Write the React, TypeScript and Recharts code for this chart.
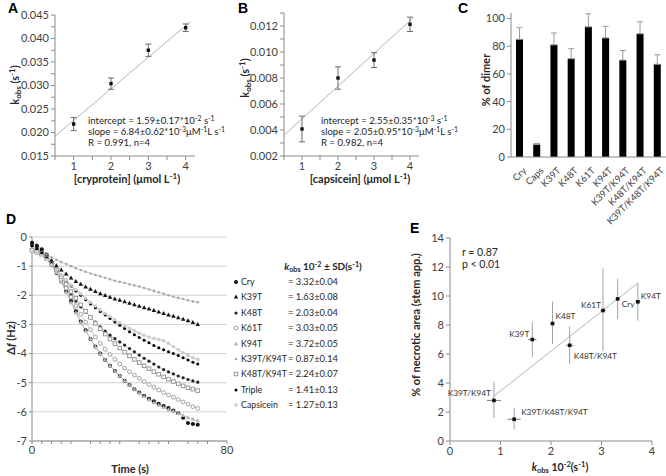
import React from 'react';
import {
  ScatterChart, Scatter, XAxis, YAxis, ErrorBar, ReferenceLine,
  BarChart, Bar, LineChart, Line, CartesianGrid,
} from 'recharts';

// ---- panel A: cryprotein kinetics
const aConc = [1, 2, 3, 4];
const aKobs = [0.0218, 0.0304, 0.0375, 0.0423];
const aErr = [0.0014, 0.0012, 0.0013, 0.0008];
const aFit = [[0.5, 0.0192], [4.13, 0.0436]];
const aYTicks = [0.015, 0.0175, 0.02, 0.0225, 0.025, 0.0275, 0.03, 0.0325, 0.035, 0.0375, 0.04, 0.0425, 0.045];
const aYMajor = [0.015, 0.02, 0.025, 0.03, 0.035, 0.04, 0.045];

// ---- panel B: capsicein kinetics
const bConc = [1, 2, 3, 4];
const bKobs = [0.00408, 0.0080, 0.00938, 0.01213];
const bErr = [0.00099, 0.00086, 0.00057, 0.00055];
const bFit = [[0.5, 0.0036], [4.08, 0.0126]];
const bYTicks = [0.002, 0.003, 0.004, 0.005, 0.006, 0.007, 0.008, 0.009, 0.01, 0.011, 0.012, 0.013];
const bYMajor = [0.002, 0.004, 0.006, 0.008, 0.01, 0.012];

const concTicks = [0.5, 1, 1.5, 2, 2.5, 3, 3.5, 4];

// ---- panel C: % of dimer
const cNames = ['Cry', 'Caps', 'K39T', 'K48T', 'K61T', 'K94T', 'K39T/K94T', 'K48T/K94T', 'K39T/K48T/K94T'];
const cDimer = [85, 9, 81, 71, 94, 86, 70, 89, 67];
const cErr = [8.4, 0.8, 8.6, 7.2, 9.4, 8.4, 6.9, 8.6, 6.8];
const cYTicks = [0, 20, 40, 60, 80, 100];

// ---- panel D: frequency shift vs time
const dTime = [0, 2, 4, 6, 8, 10, 12, 14, 16, 18, 20, 22, 24, 26, 28, 30, 32, 34, 36, 38, 40, 42, 44, 46, 48, 50, 52, 54, 56, 58, 60, 62, 64, 66, 68];
const dCry = [-0.20, -0.30, -0.42, -0.60, -0.85, -1.15, -1.50, -1.85, -2.20, -2.55, -2.90, -3.20, -3.50, -3.76, -4.00, -4.22, -4.42, -4.60, -4.77, -4.93, -5.08, -5.22, -5.34, -5.45, -5.55, -5.64, -5.72, -5.80, -5.87, -5.95, -6.05, -6.20, -6.38, -6.42, -6.44];
const dK39T = [-0.20, -0.30, -0.45, -0.62, -0.80, -0.98, -1.13, -1.27, -1.40, -1.52, -1.62, -1.71, -1.79, -1.87, -1.94, -2.00, -2.06, -2.12, -2.17, -2.22, -2.27, -2.32, -2.37, -2.42, -2.47, -2.52, -2.57, -2.62, -2.67, -2.72, -2.77, -2.82, -2.87, -2.93, -3.00];
const dK48T = [-0.30, -0.40, -0.55, -0.75, -0.98, -1.25, -1.50, -1.75, -1.98, -2.20, -2.40, -2.58, -2.75, -2.92, -3.08, -3.23, -3.37, -3.49, -3.60, -3.71, -3.83, -3.94, -4.05, -4.16, -4.26, -4.36, -4.46, -4.55, -4.63, -4.70, -4.77, -4.83, -4.89, -4.94, -4.98];
const dK61T = [-0.45, -0.50, -0.60, -0.75, -0.95, -1.20, -1.47, -1.76, -2.06, -2.36, -2.65, -2.92, -3.18, -3.43, -3.65, -3.85, -4.03, -4.20, -4.36, -4.50, -4.62, -4.74, -4.85, -4.96, -5.06, -5.16, -5.25, -5.34, -5.42, -5.50, -5.58, -5.66, -5.74, -5.82, -5.88];
const dK94T = [-0.50, -0.55, -0.62, -0.75, -0.95, -1.22, -1.55, -1.90, -2.25, -2.60, -2.92, -3.22, -3.50, -3.76, -4.00, -4.22, -4.42, -4.60, -4.77, -4.93, -5.08, -5.22, -5.35, -5.47, -5.58, -5.68, -5.77, -5.85, -5.92, -5.98, -6.05, -6.12, -6.20, -6.25, -6.30];
const dK39TK94T = [-0.40, -0.45, -0.52, -0.60, -0.70, -0.78, -0.86, -0.93, -1.00, -1.07, -1.13, -1.19, -1.25, -1.30, -1.35, -1.40, -1.45, -1.50, -1.54, -1.58, -1.62, -1.66, -1.70, -1.75, -1.80, -1.85, -1.90, -1.95, -2.00, -2.05, -2.09, -2.13, -2.17, -2.21, -2.24];
const dK48TK94T = [-0.45, -0.50, -0.60, -0.74, -0.92, -1.13, -1.37, -1.62, -1.87, -2.10, -2.33, -2.55, -2.76, -2.96, -3.15, -3.33, -3.50, -3.66, -3.81, -3.95, -4.08, -4.20, -4.31, -4.42, -4.52, -4.62, -4.71, -4.80, -4.88, -4.96, -5.04, -5.11, -5.17, -5.22, -5.27];
const dTriple = [-0.30, -0.40, -0.55, -0.72, -0.90, -1.10, -1.30, -1.50, -1.68, -1.85, -2.00, -2.15, -2.30, -2.43, -2.56, -2.68, -2.80, -2.92, -3.03, -3.14, -3.25, -3.35, -3.45, -3.54, -3.63, -3.72, -3.80, -3.87, -3.94, -4.00, -4.07, -4.14, -4.22, -4.30, -4.36];
const dCapsicein = [-0.50, -0.55, -0.65, -0.78, -0.95, -1.12, -1.30, -1.48, -1.65, -1.80, -1.95, -2.10, -2.24, -2.37, -2.50, -2.62, -2.73, -2.84, -2.94, -3.04, -3.13, -3.22, -3.30, -3.37, -3.43, -3.48, -3.52, -3.56, -3.65, -3.76, -3.87, -3.97, -4.06, -4.14, -4.20];
const dTimeTicks = [0, 4, 8, 12, 16, 20, 24, 28, 32, 36, 40, 44, 48, 52, 56, 60, 64, 68, 72, 76, 80];
const dYTicks = [-7, -6, -5, -4, -3, -2, -1, 0];

const dNames = ['Cry', 'K39T', 'K48T', 'K61T', 'K94T', 'K39T/K94T', 'K48T/K94T', 'Triple', 'Capsicein'];
const dKeys = ['Cry', 'K39T', 'K48T', 'K61T', 'K94T', 'K39TK94T', 'K48TK94T', 'Triple', 'Capsicein'];
const dKobs = [3.32, 1.63, 2.03, 3.03, 3.72, 0.87, 2.24, 1.41, 1.27];
const dSd = [0.04, 0.08, 0.04, 0.05, 0.05, 0.14, 0.07, 0.13, 0.13];
const dMarkers = ['dotB', 'triB', 'dotBs', 'ringG', 'triG', 'dotGs', 'sqG', 'dotBt', 'dotGl'];

// ---- panel E: necrosis vs kobs
const eNames = ['K39T/K94T', 'K39T/K48T/K94T', 'K39T', 'K48T', 'K48T/K94T', 'K61T', 'Cry', 'K94T'];
const eKobs = [0.87, 1.27, 1.63, 2.03, 2.37, 3.03, 3.32, 3.72];
const eKobsSd = [0.14, 0.13, 0.08, 0.04, 0.07, 0.05, 0.04, 0.05];
const eNecrosis = [2.8, 1.5, 7.0, 8.1, 6.6, 9.0, 9.8, 9.6];
const eErrDown = [1.2, 0.7, 1.2, 1.4, 1.3, 2.8, 1.4, 1.3];
const eErrUp = [1.3, 0.8, 1.2, 1.5, 1.3, 2.9, 1.4, 1.3];
const eFit = [[0.87, 3.1], [3.72, 10.9]];
const eYTicks = [0, 2, 4, 6, 8, 10, 12, 14];
const eXTicks = [0, 1, 2, 3, 4];

// label placement for panel E (style, not data)
const eLabelPos: Record<string, { dx: number; dy: number; anchor: string }> = {
  'K39T/K94T': { dx: -3, dy: -4, anchor: 'end' },
  'K39T/K48T/K94T': { dx: 7, dy: -4, anchor: 'start' },
  'K39T': { dx: -3, dy: -3, anchor: 'end' },
  'K48T': { dx: 3, dy: -5, anchor: 'start' },
  'K48T/K94T': { dx: 4, dy: 14, anchor: 'start' },
  'K61T': { dx: -2, dy: -3, anchor: 'end' },
  'Cry': { dx: 4, dy: 8, anchor: 'start' },
  'K94T': { dx: 3, dy: -3, anchor: 'start' },
};

const FONT = 'Lato, "Liberation Sans", sans-serif';
const axisLine = { stroke: '#8a8a8a' };
const tickStyle = { fontSize: 11, fill: '#404040', fontFamily: FONT };

const aData = aConc.map((x, i) => ({ x, y: aKobs[i], e: aErr[i] }));
const bData = bConc.map((x, i) => ({ x, y: bKobs[i], e: bErr[i] }));
const cData = cNames.map((name, i) => ({ name, v: cDimer[i], err: [0, cErr[i]] }));
const dData = dTime.map((t, i) => ({
  t,
  Cry: dCry[i], K39T: dK39T[i], K48T: dK48T[i], K61T: dK61T[i], K94T: dK94T[i],
  K39TK94T: dK39TK94T[i], K48TK94T: dK48TK94T[i], Triple: dTriple[i], Capsicein: dCapsicein[i],
}));
const eData = eNames.map((name, i) => ({
  name, x: eKobs[i], y: eNecrosis[i], ex: eKobsSd[i], ey: [eErrDown[i], eErrUp[i]],
}));

const Sup = ({ children }: any) => (
  <span style={{ fontSize: '0.72em', verticalAlign: '0.45em', lineHeight: 0 }}>{children}</span>
);
const Sub = ({ children }: any) => (
  <span style={{ fontSize: '0.72em', verticalAlign: '-0.3em', lineHeight: 0 }}>{children}</span>
);

const Txt = ({ x, y, size = 11, bold = false, align = 'left', rotate = 0, color = '#262626', font = FONT, children }: any) => {
  const tx = align === 'left' ? '0' : align === 'center' ? '-50%' : '-100%';
  return (
    <div
      style={{
        position: 'absolute', left: x, top: y, whiteSpace: 'nowrap', lineHeight: 1,
        transform: `translate(${tx},-50%) rotate(${rotate}deg)`,
        fontSize: size, fontWeight: bold ? 700 : 400, fontFamily: font, color,
      }}
    >
      {children}
    </div>
  );
};

const Marker = ({ kind, cx, cy }: any) => {
  if (cx == null || cy == null) return null;
  switch (kind) {
    case 'dotB': return <circle cx={cx} cy={cy} r={2} fill="#111" />;
    case 'triB': return <polygon points={`${cx},${cy - 2.4} ${cx - 2.2},${cy + 1.6} ${cx + 2.2},${cy + 1.6}`} fill="#111" />;
    case 'dotBs': return <circle cx={cx} cy={cy} r={1.6} fill="#222" />;
    case 'ringG': return <circle cx={cx} cy={cy} r={1.9} fill="#fff" stroke="#9a9a9a" strokeWidth={0.9} />;
    case 'triG': return <polygon points={`${cx},${cy - 2.4} ${cx - 2.2},${cy + 1.6} ${cx + 2.2},${cy + 1.6}`} fill="#b5b5b5" />;
    case 'dotGs': return <circle cx={cx} cy={cy} r={1.3} fill="#a8a8a8" />;
    case 'sqG': return <rect x={cx - 1.8} y={cy - 1.8} width={3.6} height={3.6} fill="#fff" stroke="#8f8f8f" strokeWidth={0.9} />;
    case 'dotBt': return <circle cx={cx} cy={cy} r={1.5} fill="#000" />;
    default: return <circle cx={cx} cy={cy} r={1.8} fill="#cdcdcd" />;
  }
};

const pointShape = (p: any) => (
  <rect x={p.cx - 1.7} y={p.cy - 1.7} width={3.4} height={3.4} fill="#111" />
);

const isMajor = (list: number[]) => (v: number) =>
  list.some((m) => Math.abs(m - v) < 1e-9) ? v.toFixed(3) : '';

const CTick = (p: any) => (
  <g transform={`translate(${p.x + 3},${p.y + 2})`}>
    <text x={0} y={0} dy={6} textAnchor="end" transform="rotate(-45)" fontSize={9.5} fill="#404040" fontFamily={FONT}>
      {p.payload.value}
    </text>
  </g>
);

const eShape = (p: any) => {
  const name = p.payload?.name ?? p.name;
  const pos = eLabelPos[name] || { dx: 4, dy: -4, anchor: 'start' };
  return (
    <g>
      <rect x={p.cx - 1.8} y={p.cy - 1.8} width={3.6} height={3.6} fill="#111" />
      <text x={p.cx + pos.dx} y={p.cy + pos.dy} textAnchor={pos.anchor as any} fontSize={8.3} fill="#333" fontFamily={FONT}>
        {name}
      </text>
    </g>
  );
};

const KineticsPanel = ({ data, fit, yTicks, yMajor, yDomain, margin, left }: any) => (
  <div style={{ position: 'absolute', left, top: 0 }}>
    <ScatterChart width={left === 0 ? 230 : 200} height={185} margin={margin}>
      <XAxis
        type="number" dataKey="x" domain={[0.5, 4.25]} ticks={concTicks}
        tickFormatter={(v: number) => (Number.isInteger(v) ? String(v) : '')}
        height={29} axisLine={axisLine} tickLine={{ stroke: '#8a8a8a' }} tickSize={4} tick={tickStyle}
      />
      <YAxis
        type="number" dataKey="y" domain={yDomain} ticks={yTicks}
        tickFormatter={isMajor(yMajor)} width={left === 0 ? 55 : 54}
        axisLine={axisLine} tickLine={{ stroke: '#8a8a8a' }} tickSize={4} tick={tickStyle}
      />
      <ReferenceLine
        segment={[{ x: fit[0][0], y: fit[0][1] }, { x: fit[1][0], y: fit[1][1] }]}
        stroke="#b4b4b4" strokeWidth={1}
      />
      <Scatter data={data} shape={pointShape} isAnimationActive={false}>
        <ErrorBar dataKey="e" direction="y" width={3} stroke="#6a6a6a" strokeWidth={1} />
      </Scatter>
    </ScatterChart>
  </div>
);

export default function App() {
  return (
    <div style={{ position: 'absolute', left: 0, top: 0, width: 666, height: 476, background: '#fff', overflow: 'hidden', fontFamily: FONT }}>
      {/* A */}
      <KineticsPanel data={aData} fit={aFit} yTicks={aYTicks} yMajor={aYMajor} yDomain={[0.015, 0.045]}
        margin={{ top: 15, right: 35, bottom: 0, left: 0 }} left={0} />
      {/* B */}
      <KineticsPanel data={bData} fit={bFit} yTicks={bYTicks} yMajor={bYMajor} yDomain={[0.002, 0.013]}
        margin={{ top: 13, right: 11, bottom: 0, left: 0 }} left={230} />

      {/* C */}
      <div style={{ position: 'absolute', left: 450, top: 0 }}>
        <BarChart width={216} height={240} data={cData} margin={{ top: 13, right: 0, bottom: 0, left: 0 }}>
          <XAxis dataKey="name" interval={0} height={83} tick={<CTick />} tickLine={false} axisLine={axisLine} />
          <YAxis type="number" domain={[0, 104]} ticks={cYTicks} width={61}
            axisLine={axisLine} tickLine={{ stroke: '#8a8a8a' }} tickSize={4} tick={tickStyle} />
          <Bar dataKey="v" fill="#000" barSize={7} isAnimationActive={false}>
            <ErrorBar dataKey="err" direction="y" width={3} stroke="#9a9a9a" strokeWidth={1} />
          </Bar>
        </BarChart>
      </div>

      {/* D */}
      <div style={{ position: 'absolute', left: 0, top: 225 }}>
        <LineChart width={240} height={251} data={dData} margin={{ top: 12, right: 13, bottom: 0, left: 0 }}>
          <CartesianGrid vertical={false} stroke="#d2d2d2" />
          <XAxis type="number" dataKey="t" domain={[0, 80]} ticks={dTimeTicks}
            tickFormatter={(v: number) => (v % 20 === 0 ? String(v) : '')}
            height={35} axisLine={axisLine} tickLine={{ stroke: '#8a8a8a' }} tickSize={3} tick={tickStyle} />
          <YAxis type="number" domain={[-7, 0]} ticks={dYTicks} width={32}
            axisLine={axisLine} tickLine={{ stroke: '#8a8a8a' }} tickSize={3} tick={tickStyle} />
          {dKeys.map((k, i) => (
            <Line
              key={k} dataKey={k} stroke="#b8b8b8" strokeWidth={0.8} isAnimationActive={false}
              activeDot={false}
              dot={(p: any) => <Marker key={`${k}-${p.index}`} kind={dMarkers[i]} cx={p.cx} cy={p.cy} />}
            />
          ))}
        </LineChart>
      </div>

      {/* E */}
      <div style={{ position: 'absolute', left: 405, top: 225 }}>
        <ScatterChart width={261} height={251} margin={{ top: 13, right: 14, bottom: 0, left: 0 }} style={{ overflow: 'visible' }}>
          <XAxis type="number" dataKey="x" domain={[0, 4]} ticks={eXTicks}
            height={35} axisLine={axisLine} tickLine={{ stroke: '#8a8a8a' }} tickSize={4} tick={tickStyle} />
          <YAxis type="number" dataKey="y" domain={[0, 14]} ticks={eYTicks} width={45}
            axisLine={axisLine} tickLine={{ stroke: '#8a8a8a' }} tickSize={4} tick={tickStyle} />
          <ReferenceLine
            segment={[{ x: eFit[0][0], y: eFit[0][1] }, { x: eFit[1][0], y: eFit[1][1] }]}
            stroke="#b4b4b4" strokeWidth={1}
          />
          <Scatter data={eData} shape={eShape} isAnimationActive={false}>
            <ErrorBar dataKey="ey" direction="y" width={0} stroke="#a0a0a0" strokeWidth={1} />
            <ErrorBar dataKey="ex" direction="x" width={0} stroke="#777" strokeWidth={1} />
          </Scatter>
        </ScatterChart>
      </div>

      {/* panel letters */}
      <Txt x={8} y={8} size={14} bold font='"Liberation Sans", Arial, sans-serif' color="#000">A</Txt>
      <Txt x={238} y={8} size={14} bold font='"Liberation Sans", Arial, sans-serif' color="#000">B</Txt>
      <Txt x={458} y={8} size={14} bold font='"Liberation Sans", Arial, sans-serif' color="#000">C</Txt>
      <Txt x={6} y={219} size={14} bold font='"Liberation Sans", Arial, sans-serif' color="#000">D</Txt>
      <Txt x={410} y={228} size={14} bold font='"Liberation Sans", Arial, sans-serif' color="#000">E</Txt>

      {/* A texts */}
      <Txt x={14} y={85} bold align="center" rotate={-90}>k<Sub>obs</Sub> (s<Sup>-1</Sup>)</Txt>
      <Txt x={127} y={178} bold align="center">[cryprotein] (μmol L<Sup>-1</Sup>)</Txt>
      <Txt x={88} y={121} size={9.6}>intercept = 1.59±0.17*10<Sup>-2</Sup> s<Sup>-1</Sup></Txt>
      <Txt x={88} y={132} size={9.6}>slope = 6.84±0.62*10<Sup>-3</Sup>μM<Sup>-1</Sup>L s<Sup>-1</Sup></Txt>
      <Txt x={88} y={143} size={9.6}>R = 0.991, n=4</Txt>

      {/* B texts */}
      <Txt x={244} y={78} bold align="center" rotate={-90}>k<Sub>obs</Sub> (s<Sup>-1</Sup>)</Txt>
      <Txt x={360} y={178} bold align="center">[capsicein] (μmol L<Sup>-1</Sup>)</Txt>
      <Txt x={321} y={121} size={9.6}>intercept = 2.55±0.35*10<Sup>-3</Sup> s<Sup>-1</Sup></Txt>
      <Txt x={321} y={132} size={9.6}>slope = 2.05±0.95*10<Sup>-3</Sup>μM<Sup>-1</Sup>L s<Sup>-1</Sup></Txt>
      <Txt x={321} y={143} size={9.6}>R = 0.982, n=4</Txt>

      {/* C texts */}
      <Txt x={485} y={80} bold align="center" rotate={-90}>% of dimer</Txt>

      {/* D texts */}
      <Txt x={10} y={338} bold align="center" rotate={-90}>Δ<i>f</i> (Hz)</Txt>
      <Txt x={130} y={468} bold align="center">Time (s)</Txt>
      <Txt x={323} y={266} size={10} bold align="center"><i>k</i><Sub>obs</Sub> 10<Sup>-2</Sup> ± SD(s<Sup>-1</Sup>)</Txt>
      {dNames.map((n, i) => (
        <React.Fragment key={n}>
          <svg style={{ position: 'absolute', left: 232, top: 278 + i * 15.4 }} width={8} height={8}>
            <Marker kind={dMarkers[i]} cx={4} cy={4} />
          </svg>
          <Txt x={241} y={282 + i * 15.4} size={8.8}>{n}</Txt>
          <Txt x={288} y={282 + i * 15.4} size={9.3}>= {dKobs[i].toFixed(2)}±{dSd[i].toFixed(2)}</Txt>
        </React.Fragment>
      ))}

      {/* E texts */}
      <Txt x={462} y={252} size={10.5}>r = 0.87</Txt>
      <Txt x={462} y={264} size={10.5}>p &lt; 0.01</Txt>
      <Txt x={415} y={325} bold align="center" rotate={-90}>% of necrotic area (stem app.)</Txt>
      <Txt x={560} y={467} size={10.5} bold align="center"><i>k</i><Sub>obs</Sub> 10<Sup>-2</Sup>(s<Sup>-1</Sup>)</Txt>
    </div>
  );
}
